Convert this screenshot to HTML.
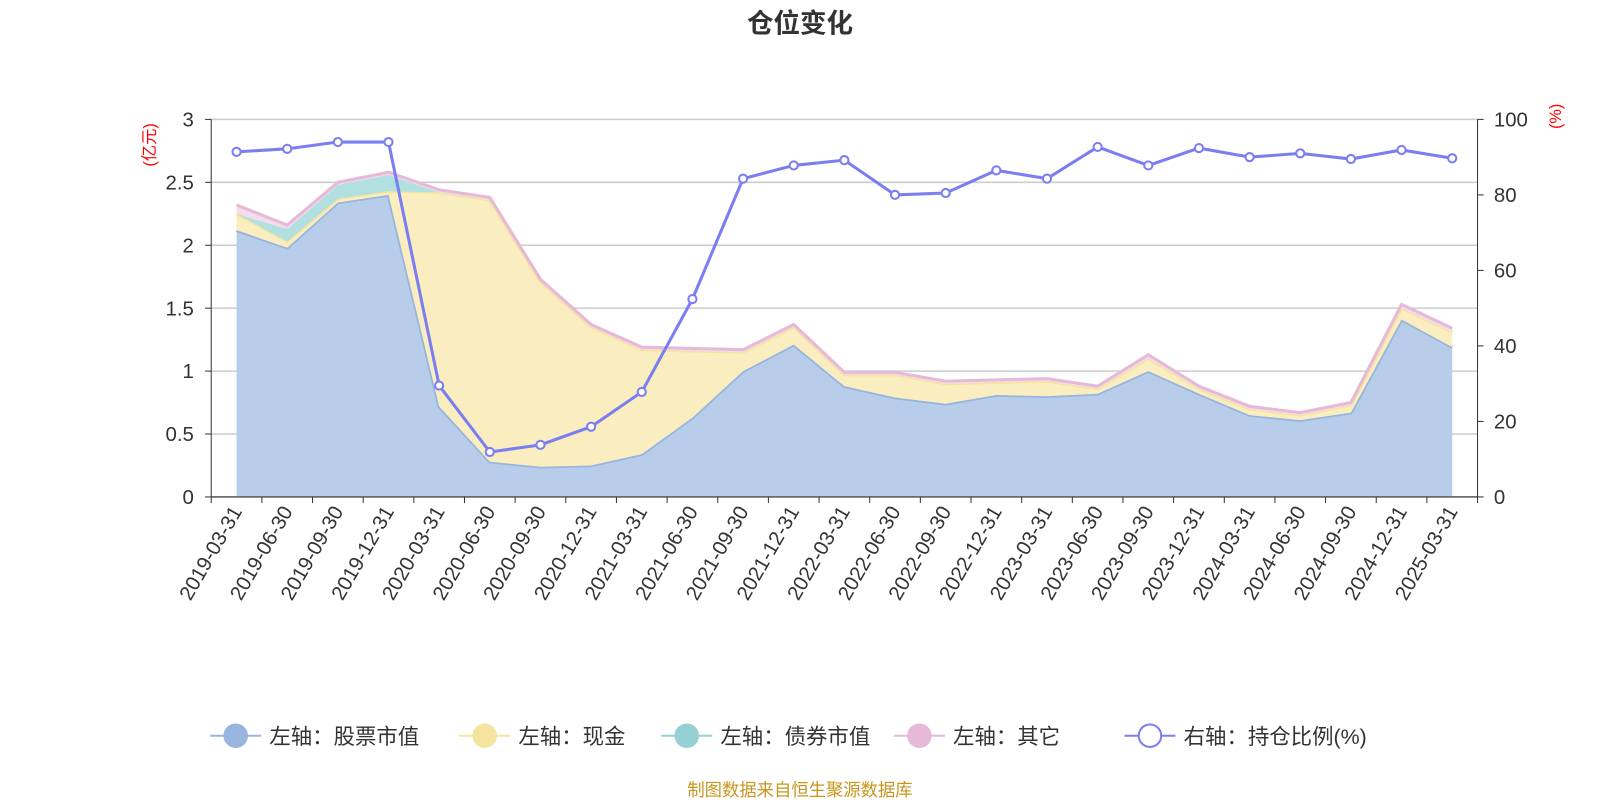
<!DOCTYPE html>
<html><head><meta charset="utf-8"><style>
body{margin:0;background:#fff;font-family:"Liberation Sans","Noto Sans CJK SC",sans-serif;}
svg{display:block}
</style></head><body>
<svg id="c" width="1600" height="800"><g id="root" transform="scale(1.0204)"></g></svg>
<script>
const categories=["2019-03-31","2019-06-30","2019-09-30","2019-12-31","2020-03-31","2020-06-30","2020-09-30","2020-12-31","2021-03-31","2021-06-30","2021-09-30","2021-12-31","2022-03-31","2022-06-30","2022-09-30","2022-12-31","2023-03-31","2023-06-30","2023-09-30","2023-12-31","2024-03-31","2024-06-30","2024-09-30","2024-12-31","2025-03-31"];
const stockValues=[2.12,1.98,2.34,2.40,0.72,0.28,0.24,0.25,0.34,0.63,1.0,1.21,0.88,0.79,0.74,0.81,0.80,0.82,1.0,0.82,0.65,0.61,0.67,1.41,1.19];
const cashValues=[0.13,0.05,0.03,0.03,1.70,2.08,1.47,1.10,0.83,0.53,0.15,0.14,0.09,0.18,0.16,0.10,0.12,0.04,0.10,0.04,0.05,0.04,0.06,0.09,0.12];
const bondValues=[0,0.10,0.11,0.13,0,0,0,0,0,0,0,0,0,0,0,0,0,0,0,0,0,0,0,0,0];
const otherValues=[0.07,0.03,0.02,0.02,0.02,0.02,0.02,0.02,0.02,0.02,0.02,0.02,0.02,0.02,0.02,0.02,0.02,0.02,0.03,0.02,0.02,0.02,0.02,0.03,0.03];
const ratioValues=[91.4,92.2,94,94,29.5,11.9,13.8,18.6,27.8,52.4,84.3,87.8,89.2,80,80.5,86.5,84.3,92.7,87.8,92.4,90,91,89.5,91.9,89.7];
const leftTicks=[0,0.5,1,1.5,2,2.5,3];
const rightTicks=[0,20,40,60,80,100];

const NS="http://www.w3.org/2000/svg";
const svg=document.getElementById('root');
const X0=207,X1=1448,Y0=487,Y1=117;
const band=(X1-X0)/categories.length;
const xs=i=>X0+band*(i+0.5);
const yl=v=>Y0-(v/3)*(Y0-Y1);
const yr=v=>Y0-(v/100)*(Y0-Y1);
function el(t,a,p){const e=document.createElementNS(NS,t);for(const k in a)e.setAttribute(k,a[k]);(p||svg).appendChild(e);return e;}

let t=el('text',{x:784,y:32,'text-anchor':'middle','font-size':26,'font-weight':'bold',fill:'#333'});t.textContent='仓位变化';



leftTicks.forEach(v=>{
  const g=el('line',{x1:X0,x2:X1,y1:yl(v),y2:yl(v),stroke:'#ccc','stroke-width':1.5});
  
  
  const l=el('text',{x:190,y:yl(v)+7,'text-anchor':'end','font-size':20,fill:'#333'});l.textContent=v;
  
  
  el('line',{x1:X0-6,x2:X0,y1:yl(v),y2:yl(v),stroke:'#333'});
});
rightTicks.forEach(v=>{
  const l=el('text',{x:1464,y:yr(v)+7,'font-size':20,fill:'#333'});l.textContent=v;
  
  
  el('line',{x1:X1,x2:X1+6,y1:yr(v),y2:yr(v),stroke:'#333'});
});
let u=el('text',{x:152,y:142,'font-size':16,fill:'red',transform:'rotate(-90 152 142)','text-anchor':'middle'});u.textContent='(亿元)';


u=el('text',{x:1530,y:114,'font-size':16,fill:'red',transform:'rotate(-90 1530 114)','text-anchor':'middle'});u.textContent='(%)';



const series=[[stockValues,'#b8cdea','#97b5de'],[cashValues,'#faeec0','#f5e3a0'],[bondValues,'#b2dfe0','#95d0d2'],[otherValues,'#f3dcec','#e6b9d9']];
let base=categories.map(()=>0);
const names=['stock-area','cash-area','bond-area','other-area'];
series.forEach((s,k)=>{
  const top=base.map((b,i)=>b+s[0][i]);
  let d='M'+categories.map((c,i)=>xs(i)+','+yl(top[i])).join('L');
  for(let i=categories.length-1;i>=0;i--)d+='L'+xs(i)+','+yl(base[i]);
  const a=el('path',{d:d+'Z',fill:s[1]});
  
  
  if(k!==2){
    const ln=el('path',{d:'M'+categories.map((c,i)=>xs(i)+','+yl(top[i])).join('L'),fill:'none',stroke:s[2],'stroke-width':k===0?3.5:3});
    
    
  }
  base=top;
});

el('line',{x1:X0,x2:X0,y1:Y1,y2:Y0,stroke:'#333'});
el('line',{x1:X1,x2:X1,y1:Y1,y2:Y0,stroke:'#333'});
el('line',{x1:X0,x2:X1,y1:Y0,y2:Y0,stroke:'#333'});
for(let i=0;i<=categories.length;i++)el('line',{x1:X0+band*i,x2:X0+band*i,y1:Y0,y2:Y0+6,stroke:'#333'});
categories.forEach((c,i)=>{
  const x=xs(i)+6,y=Y0+14;
  const l=el('text',{x:x,y:y,'text-anchor':'end','font-size':20,fill:'#333',transform:`rotate(-60 ${x} ${y})`});l.textContent=c;
  
  
});

const rl=el('path',{d:'M'+ratioValues.map((v,i)=>xs(i)+','+yr(v)).join('L'),fill:'none',stroke:'#7b7ef0','stroke-width':3});


ratioValues.forEach((v,i)=>{
  const p=el('circle',{cx:xs(i),cy:yr(v),r:4,fill:'#fff',stroke:'#7b7ef0','stroke-width':2});
  
  
});

const leg=[['左轴：股票市值','#97b5de',true],['左轴：现金','#f5e3a0',true],['左轴：债券市值','#95d0d2',true],['左轴：其它','#e6b9d9',true],['右轴：持仓比例(%)','#7b7ef0',false]];
const lx=[206,450,648,876,1102];
const lnames=['legend-stock','legend-cash','legend-bond','legend-other','legend-ratio'];
leg.forEach((L,i)=>{
  const g=el('g',{});
  
  
  el('line',{x1:lx[i],x2:lx[i]+50,y1:721,y2:721,stroke:L[1],'stroke-width':2},g);
  el('circle',{cx:lx[i]+25,cy:721,r:11,fill:L[2]?L[1]:'#fff',stroke:L[1],'stroke-width':2},g);
  const tx=el('text',{x:lx[i]+58,y:729,'font-size':21,fill:'#333'},g);tx.textContent=L[0];
});
const f=el('text',{x:784,y:780,'text-anchor':'middle','font-size':17,fill:'#c8961e'});f.textContent='制图数据来自恒生聚源数据库';


</script>
</body></html>
